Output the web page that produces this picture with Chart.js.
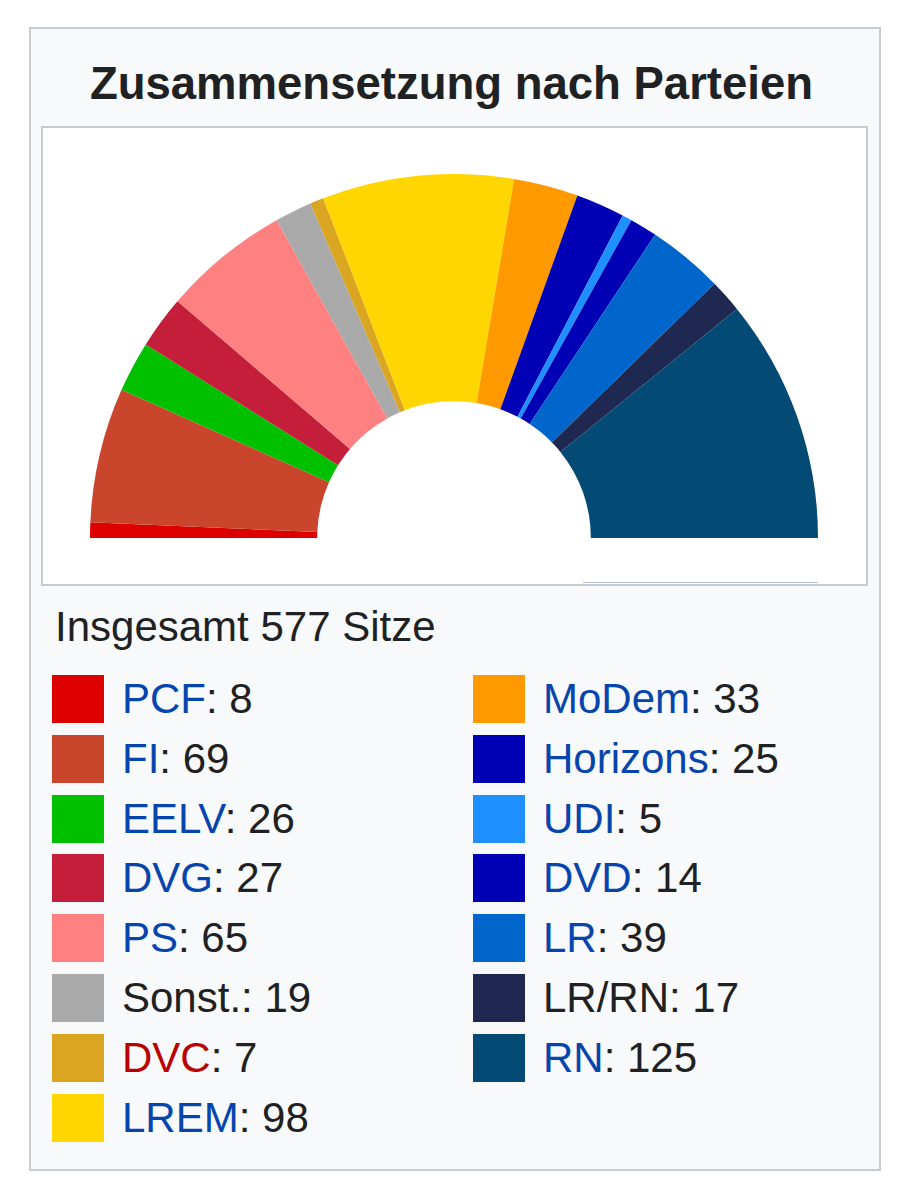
<!DOCTYPE html>
<html>
<head>
<meta charset="utf-8">
<script src="https://cdn.jsdelivr.net/npm/chart.js@4/dist/chart.umd.min.js"></script>
<style>
  html, body { margin: 0; padding: 0; background: #ffffff; }
  body { width: 911px; height: 1200px; position: relative; font-family: "Liberation Sans", Arial, sans-serif; color: #202122; }
  #outer { position: absolute; left: 29px; top: 27px; width: 852px; height: 1144px; box-sizing: border-box; border: 2px solid #c8ccd1; background: #f8f9fa; }
  #title { position: absolute; left: -4px; width: 911px; top: 61px; text-align: center; font-weight: bold; font-size: 45.5px; line-height: 46px; white-space: nowrap; }
  #inner { position: absolute; left: 41px; top: 126px; width: 827px; height: 460px; box-sizing: border-box; border: 2px solid #c8ccd1; background: #ffffff; }
  #artifact { position: absolute; left: 583px; top: 582px; width: 235px; height: 1px; background: #b4bfd0; }
  #chartWrap { position: absolute; left: 90px; top: 174px; width: 728px; height: 364px; }
  #total { position: absolute; left: 55px; top: 606px; font-size: 42px; line-height: 42px; white-space: nowrap; }
  .item { position: absolute; height: 48px; white-space: nowrap; }
  .sw { position: absolute; left: 0; top: 0; width: 52px; height: 48px; box-sizing: border-box; }
  .lbl { position: absolute; top: 0; font-size: 42px; line-height: 48px; color: #202122; }
</style>
</head>
<body>
<div id="outer"></div>
<div id="title">Zusammensetzung nach Parteien</div>
<div id="inner"></div>
<div id="artifact"></div>
<div id="chartWrap"><canvas id="c" width="728" height="364"></canvas></div>
<div id="total">Insgesamt 577 Sitze</div>
<div id="legend"></div>
<script>
// ---- data ----
const parties = ["PCF", "FI", "EELV", "DVG", "PS", "Sonst.", "DVC", "LREM",
                 "MoDem", "Horizons", "UDI", "DVD", "LR", "LR/RN", "RN"];
const seats = [8, 69, 26, 27, 65, 19, 7, 98, 33, 25, 5, 14, 39, 17, 125];
const partyColors = ["#dd0000", "#c9462c", "#00c000", "#c41e3a", "#ff8080", "#aaaaaa",
                     "#daa520", "#ffd600", "#ff9900", "#0000b4", "#1e90ff", "#0000b4",
                     "#0066cc", "#1e2850", "#034a75"];
// label kinds as on the wiki page: link (blue), plain (black), redlink (red)
const labelKinds = ["link", "link", "link", "link", "link", "plain", "redlink", "link",
                    "link", "link", "link", "link", "link", "plain", "link"];

const kindColor = { link: "#0645ad", plain: "#202122", redlink: "#ba0000" };

// ---- chart ----
new Chart(document.getElementById("c"), {
  type: "doughnut",
  data: {
    labels: parties,
    datasets: [{
      data: seats,
      backgroundColor: partyColors,
      borderWidth: 0,
      hoverOffset: 0
    }]
  },
  options: {
    responsive: false,
    maintainAspectRatio: false,
    animation: false,
    rotation: -90,
    circumference: 180,
    cutout: "37.6%",
    layout: { padding: 0 },
    plugins: { legend: { display: false }, tooltip: { enabled: false } },
    events: []
  }
});

// ---- legend (built from the arrays) ----
const legend = document.getElementById("legend");
const perCol = 8;
const colX = [52, 473];
const rowTop = 675, rowStep = 59.8;
parties.forEach((p, i) => {
  const col = i < perCol ? 0 : 1;
  const row = i < perCol ? i : i - perCol;
  const item = document.createElement("div");
  item.className = "item";
  item.style.left = colX[col] + "px";
  item.style.top = (rowTop + row * rowStep) + "px";
  const sw = document.createElement("div");
  sw.className = "sw";
  sw.style.background = partyColors[i];
  item.appendChild(sw);
  const lbl = document.createElement("div");
  lbl.className = "lbl";
  lbl.style.left = "70px";
  const name = document.createElement("span");
  name.textContent = p;
  name.style.color = kindColor[labelKinds[i]];
  lbl.appendChild(name);
  lbl.appendChild(document.createTextNode(": " + seats[i]));
  item.appendChild(lbl);
  legend.appendChild(item);
});
</script>
</body>
</html>
